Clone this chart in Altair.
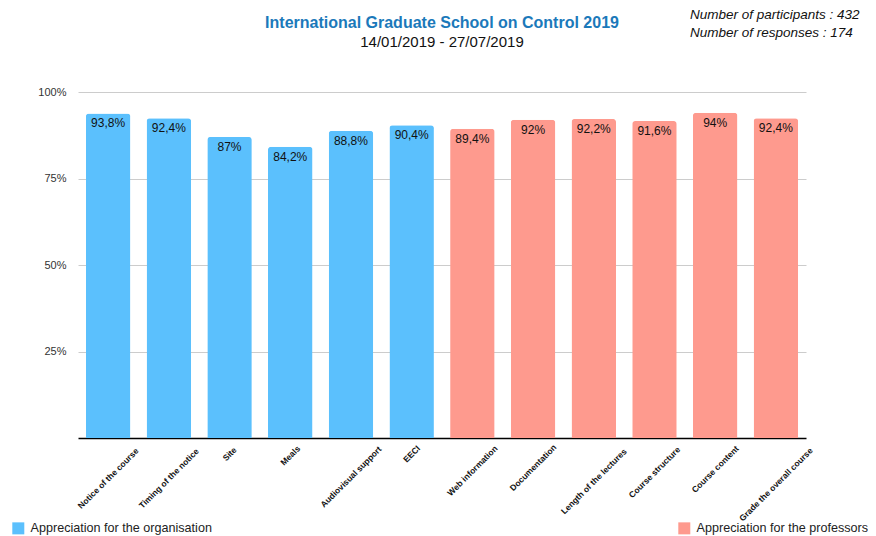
import altair as alt
import pandas as pd

categories = ["Notice of the course", "Timing of the notice", "Site", "Meals",
              "Audiovisual support", "EECI", "Web information", "Documentation",
              "Length of the lectures", "Course structure", "Course content",
              "Grade the overall course"]
values = [93.8, 92.4, 87, 84.2, 88.8, 90.4, 89.4, 92, 92.2, 91.6, 94, 92.4]
groups = ["Appreciation for the organisation"] * 6 + ["Appreciation for the professors"] * 6
group_names = ["Appreciation for the organisation", "Appreciation for the professors"]
group_colors = ["#5bc0fd", "#fe9a8e"]
y_ticks = [0.25, 0.5, 0.75, 1.0]
title_text = "International Graduate School on Control 2019"
subtitle_text = "14/01/2019 - 27/07/2019"
info_lines = ["Number of participants : 432", "Number of responses : 174"]

labels = [(f"{v:g}%").replace(".", ",") for v in values]
df = pd.DataFrame({"category": categories, "value": values, "group": groups, "label": labels})

FONT = "Liberation Sans"
PLOT_H = 346

base = alt.Chart(df).transform_calculate(
    frac="datum.value / 100",
    ypos=f"-(7 + (length(datum.category) * 4.3 + 8) * 0.354) / {PLOT_H}",
)

xenc = alt.X("category:N", sort=categories,
             scale=alt.Scale(paddingInner=0.267, paddingOuter=0.13),
             axis=alt.Axis(title=None, labels=False, ticks=False, domain=True,
                           domainColor="#000000", domainWidth=1.5))
yscale = alt.Scale(domain=[0, 1])

bars = base.mark_bar(cornerRadiusTopLeft=3, cornerRadiusTopRight=3).encode(
    x=xenc,
    y=alt.Y("frac:Q", scale=yscale,
            axis=alt.Axis(title=None, values=y_ticks, format=".0%", domain=False,
                          ticks=False, grid=True, gridColor="#cccccc", gridWidth=1,
                          labelFontSize=11, labelColor="#333333", labelPadding=12,
                          labelFont=FONT)),
    color=alt.Color("group:N", scale=alt.Scale(domain=group_names, range=group_colors),
                    legend=alt.Legend(title=None, orient="none", legendX=-66, legendY=430,
                                      direction="horizontal", columns=2, columnPadding=466,
                                      symbolType="square", symbolSize=144,
                                      symbolStrokeWidth=0, labelFontSize=12.6,
                                      labelColor="#222222", labelFont=FONT,
                                      labelOffset=6, labelLimit=0)),
)

value_text = base.mark_text(baseline="top", dy=5, fontSize=12, color="#111111",
                            font=FONT).encode(
    x=alt.X("category:N", sort=categories),
    y=alt.Y("frac:Q", scale=yscale),
    text="label:N",
)

x_labels = base.mark_text(angle=315, align="center", baseline="middle", fontSize=8.5,
                          fontWeight="bold", color="#111111", font=FONT).encode(
    x=alt.X("category:N", sort=categories),
    y=alt.Y("ypos:Q", scale=yscale),
    text="category:N",
)

one = alt.Chart(pd.DataFrame({"t": [0]}))

info = one.mark_text(
    align="left", baseline="middle", fontSize=13.5, fontStyle="italic",
    color="#111111", font=FONT, lineHeight=18,
).encode(x=alt.value(612), y=alt.value(-77), text=alt.value(info_lines))

title = one.mark_text(
    align="center", baseline="alphabetic", fontSize=16, fontWeight="bold",
    color="#1b79ba", font=FONT,
).encode(x=alt.value(364), y=alt.value(-64), text=alt.value(title_text))

subtitle = one.mark_text(
    align="center", baseline="alphabetic", fontSize=15, color="#111111", font=FONT,
).encode(x=alt.value(364), y=alt.value(-45), text=alt.value(subtitle_text))

chart = alt.layer(bars, value_text, x_labels, info, title, subtitle).properties(
    width=728, height=PLOT_H,
    padding={"left": 70, "top": 84, "right": 62, "bottom": 98},
    autosize=alt.AutoSizeParams(type="none"),
).configure_view(stroke=None)

chart.save("out.html", embed_options={"renderer": "svg", "actions": False})
